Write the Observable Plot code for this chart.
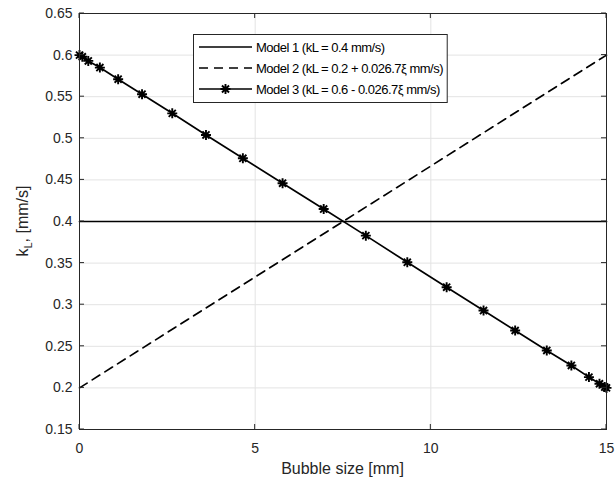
<!DOCTYPE html>
<html>
<head>
<meta charset="utf-8">
<script src="https://cdn.jsdelivr.net/npm/d3@7"></script>
<script src="https://cdn.jsdelivr.net/npm/@observablehq/plot@0.6"></script>
<style>
  html, body { margin: 0; padding: 0; background: #fff; }
  #chart svg { display: block; }
</style>
</head>
<body>
<div id="chart"></div>
<script>
// Axis ticks
const xTicks = [0, 5, 10, 15];
const yTicks = [0.15, 0.2, 0.25, 0.3, 0.35, 0.4, 0.45, 0.5, 0.55, 0.6, 0.65];

// Model 1: constant kL = 0.4 mm/s
const model1X = [0, 15];
const model1Y = [0.4, 0.4];

// Model 2: kL rising with bubble size
const model2X = [0, 15];
const model2Y = [0.2, 0.6];

// Model 3: kL falling with bubble size, sampled points shown as asterisks
const model3X = [0, 0.08, 0.25, 0.58, 1.1, 1.78, 2.64, 3.6, 4.65, 5.78, 6.95,
                 8.15, 9.33, 10.45, 11.5, 12.4, 13.3, 14.0, 14.5, 14.8, 14.95, 15];
const model3Y = [0.600, 0.598, 0.593, 0.585, 0.571, 0.553, 0.530, 0.504, 0.476, 0.446, 0.415,
                 0.383, 0.351, 0.321, 0.293, 0.269, 0.245, 0.227, 0.213, 0.205, 0.201, 0.200];

const legendLabels = [
  "Model 1 (kL = 0.4 mm/s)",
  "Model 2 (kL = 0.2 + 0.026.7\u03BE mm/s)",
  "Model 3 (kL = 0.6 - 0.026.7\u03BE mm/s)"
];

const toPoints = (xs, ys) => xs.map((x, i) => ({x, y: ys[i]}));
const m1 = toPoints(model1X, model1Y);
const m2 = toPoints(model2X, model2Y);
const m3 = toPoints(model3X, model3Y);

// Eight-armed asterisk marker
const asterisk8 = {
  draw(context, size) {
    const r = Math.sqrt(size / Math.PI);
    for (let k = 0; k < 4; k++) {
      const a = k * Math.PI / 4;
      const dx = r * Math.cos(a), dy = r * Math.sin(a);
      context.moveTo(-dx, -dy);
      context.lineTo(dx, dy);
    }
  }
};

const ink = "#262626";
const gridColor = "#e3e3e3";
const font = "'Liberation Sans', Arial, Helvetica, sans-serif";
const lineW = 1.7;
const starR = 5;

const plot = Plot.plot({
  width: 615,
  height: 485,
  marginLeft: 79,
  marginRight: 9,
  marginTop: 13,
  marginBottom: 56,
  x: {domain: [0, 15]},
  y: {domain: [0.15, 0.65]},
  style: {fontFamily: font, fontSize: "14px", color: ink, background: "#fff"},
  marks: [
    Plot.gridX(xTicks, {stroke: gridColor, strokeOpacity: 1}),
    Plot.gridY(yTicks, {stroke: gridColor, strokeOpacity: 1}),
    Plot.axisX(xTicks, {tickSize: 0, tickPadding: 14, label: null, tickFormat: d => String(d), fill: ink}),
    Plot.axisY(yTicks, {tickSize: 0, tickPadding: 7, label: null, tickFormat: d => String(d), fill: ink}),
    Plot.line(m1, {x: "x", y: "y", stroke: "#000", strokeWidth: lineW}),
    Plot.line(m2, {x: "x", y: "y", stroke: "#000", strokeWidth: lineW, strokeDasharray: "9,6"}),
    Plot.line(m3, {x: "x", y: "y", stroke: "#000", strokeWidth: lineW}),
    Plot.dot(m3, {x: "x", y: "y", symbol: asterisk8, r: starR, stroke: "#000", fill: "none", strokeWidth: 1.9}),
    Plot.frame({stroke: ink, strokeWidth: 1})
  ]
});

document.getElementById("chart").appendChild(plot);

const svg = d3.select(plot);
const sx = plot.scale("x"), sy = plot.scale("y");
const leftPx = sx.apply(0), rightPx = sx.apply(15);
const topPx = sy.apply(0.65), bottomPx = sy.apply(0.15);
const tickLen = 5;

// Inward tick marks on all four sides of the box
const ticks = svg.append("g").attr("stroke", ink).attr("stroke-width", 1);
for (const t of xTicks) {
  const px = sx.apply(t);
  ticks.append("line").attr("x1", px).attr("x2", px).attr("y1", bottomPx).attr("y2", bottomPx - tickLen);
  ticks.append("line").attr("x1", px).attr("x2", px).attr("y1", topPx).attr("y2", topPx + tickLen);
}
for (const t of yTicks) {
  const py = sy.apply(t);
  ticks.append("line").attr("y1", py).attr("y2", py).attr("x1", leftPx).attr("x2", leftPx + tickLen);
  ticks.append("line").attr("y1", py).attr("y2", py).attr("x1", rightPx).attr("x2", rightPx - tickLen);
}

// Axis titles
svg.append("text")
  .attr("x", (leftPx + rightPx) / 2).attr("y", 474)
  .attr("text-anchor", "middle").attr("fill", ink)
  .style("font-family", font).style("font-size", "16px")
  .text("Bubble size [mm]");

const yl = svg.append("text")
  .attr("transform", `translate(28,${(topPx + bottomPx) / 2}) rotate(-90)`)
  .attr("text-anchor", "middle").attr("fill", ink)
  .style("font-family", font).style("font-size", "16px");
yl.append("tspan").text("k");
yl.append("tspan").attr("dy", 4).style("font-size", "11px").text("L");
yl.append("tspan").attr("dy", -4).text(", [mm/s]");

// Legend box
const lg = svg.append("g").attr("text-anchor", "start");
const box = lg.append("rect")
  .attr("fill", "#fff").attr("stroke", ink).attr("stroke-width", 1);
const boxX = 193.5, boxY = 34.5, rowY = [47, 68, 89];
const sampleX1 = 199, sampleX2 = 252, textX = 256;
const dashes = [null, "9,6", null];
const texts = [];
legendLabels.forEach((label, i) => {
  const yy = rowY[i];
  lg.append("line")
    .attr("x1", sampleX1).attr("x2", sampleX2).attr("y1", yy).attr("y2", yy)
    .attr("stroke", "#000").attr("stroke-width", lineW)
    .attr("stroke-dasharray", dashes[i]);
  if (i === 2) {
    lg.append("path")
      .attr("transform", `translate(${(sampleX1 + sampleX2) / 2},${yy})`)
      .attr("d", d3.symbol(asterisk8, Math.PI * starR * starR)())
      .attr("stroke", "#000").attr("stroke-width", 1.9).attr("fill", "none");
  }
  texts.push(lg.append("text")
    .attr("x", textX).attr("y", yy).attr("dy", "0.35em")
    .attr("text-anchor", "start")
    .attr("fill", "#000")
    .style("font-family", font).style("font-size", "13px")
    .style("letter-spacing", "-0.5px")
    .text(label));
});
const maxRight = d3.max(texts, t => t.node().getBBox().x + t.node().getBBox().width);
box.attr("x", boxX).attr("y", boxY).attr("width", maxRight + 4 - boxX).attr("height", 68);
</script>
</body>
</html>
